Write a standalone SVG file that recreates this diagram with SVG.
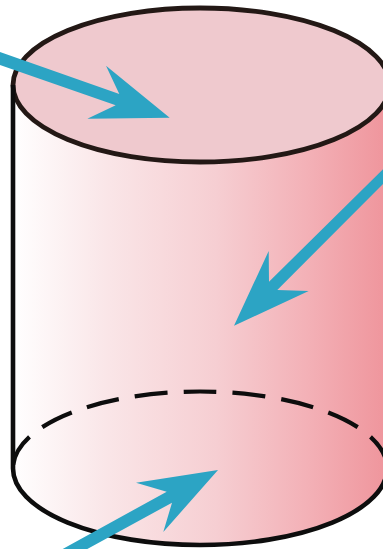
<svg xmlns="http://www.w3.org/2000/svg" width="383" height="549" viewBox="0 0 383 549">
<style>
.line{fill:none;stroke:#0d0d0d;stroke-width:4.600}
.dash{fill:none;stroke:#0d0d0d;stroke-width:4.200;stroke-dasharray:33 16;stroke-dashoffset:16.5}
.arrow{fill:#2ca4c4}
</style>
<defs>
<linearGradient id="body" gradientUnits="userSpaceOnUse" x1="12" y1="0" x2="384" y2="0">
<stop offset="0" stop-color="#ffffff"/>
<stop offset="0.25" stop-color="#fae6e8"/>
<stop offset="0.55" stop-color="#f6ced2"/>
<stop offset="0.8" stop-color="#f3b0b6"/>
<stop offset="1" stop-color="#ef969d"/>
</linearGradient>
</defs>
<rect width="383" height="549" fill="#ffffff"/>
<g id="cylinder">
<path d="M13 85V468.500A187 76.500 0 0 0 387 468.500V85Z" fill="url(#body)"/>
<path d="M13 85A187 77 0 0 1 200 8A189.500 77 0 0 1 389.500 85A189.500 77 0 0 1 200 162A187 77 0 0 1 13 85Z" fill="#efc9ce" stroke="#231815" stroke-width="4.800"/>
<path class="line" d="M13 85V468.500A187 76.500 0 0 0 387 468.500"/>
<path class="dash" d="M200 391.500A187 77 0 0 0 13 468.500"/>
<path class="dash" d="M200 391.500A187 77 0 0 1 387 468.500"/>
</g>
<g id="connectors">
<polygon class="arrow" points="0,52 119.300,94 106,65.700 169.700,117.700 87.300,118.700 115.700,105.300 0,65"/>
<polygon class="arrow" points="383,169.300 269,281.700 268.700,251 234,325.700 308.700,291 277.300,290 383,184"/>
<polygon class="arrow" points="62.700,549 166.700,491.700 136,482.700 218,470 163.300,532 172,502.700 87.300,549"/>
</g>
</svg>
